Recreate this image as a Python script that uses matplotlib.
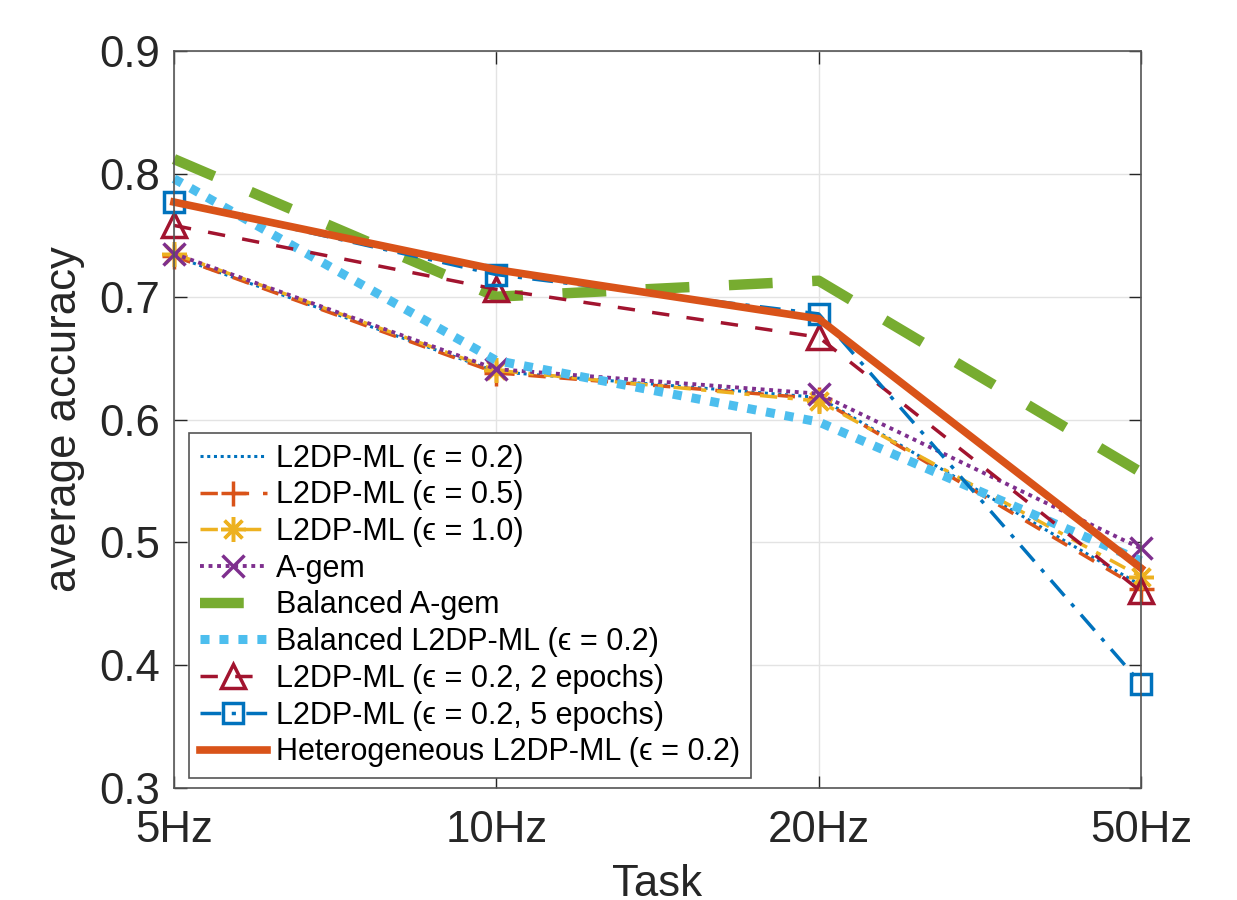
import matplotlib
matplotlib.use("Agg")
import matplotlib.pyplot as plt

# tasks on the x axis
tasks = ["5Hz", "10Hz", "20Hz", "50Hz"]

# average accuracy per task
l2dp_02 = [0.733, 0.639, 0.618, 0.465]
l2dp_05 = [0.733, 0.638, 0.617, 0.462]
l2dp_10 = [0.735, 0.640, 0.615, 0.472]
agem = [0.735, 0.641, 0.621, 0.495]
bal_agem = [0.812, 0.700, 0.713, 0.557]
bal_l2dp = [0.796, 0.648, 0.598, 0.485]
l2dp_2ep = [0.758, 0.706, 0.667, 0.460]
l2dp_5ep = [0.777, 0.718, 0.686, 0.385]
hetero = [0.777, 0.722, 0.682, 0.479]

labels = [
    "L2DP-ML (ϵ = 0.2)",
    "L2DP-ML (ϵ = 0.5)",
    "L2DP-ML (ϵ = 1.0)",
    "A-gem",
    "Balanced A-gem",
    "Balanced L2DP-ML (ϵ = 0.2)",
    "L2DP-ML (ϵ = 0.2, 2 epochs)",
    "L2DP-ML (ϵ = 0.2, 5 epochs)",
    "Heterogeneous L2DP-ML (ϵ = 0.2)",
]

plt.rcParams["font.family"] = ["Liberation Sans", "DejaVu Sans"]

txt = "#262626"
fig = plt.figure(figsize=(12.37, 9.0), dpi=100)
ax = fig.add_axes([174 / 1237, 112 / 900, 967 / 1237, 737 / 900])

x = list(range(len(tasks)))
kw = dict(clip_on=False)

ax.plot(x, l2dp_02, color="#0072BD", lw=2.2, linestyle=(0, (1, 1.2)), label=labels[0], **kw)
ax.plot(x, l2dp_05, color="#D95319", lw=2.5, linestyle=(0, (5, 4)), marker="+",
        ms=18, mew=2.5, label=labels[1], **kw)
ax.plot(x, l2dp_10, color="#EDB120", lw=2.5, linestyle=(0, (5, 3, 1.5, 3)), marker=(8, 2, 0),
        ms=18, mew=2.5, label=labels[2], **kw)
ax.plot(x, agem, color="#7E2F8E", lw=2.8, linestyle=(0, (1, 1.2)), marker="x",
        ms=16, mew=2.5, label=labels[3], **kw)
ax.plot(x, bal_agem, color="#77AC30", lw=7.5, linestyle=(0, (4.2, 3.8)),
        dash_capstyle="butt", label=labels[4], **kw)
ax.plot(x, bal_l2dp, color="#4DBEEE", lw=6.5, linestyle=(0, (1, 1.1)),
        dash_capstyle="butt", label=labels[5], **kw)
ax.plot(x, l2dp_2ep, color="#A2142F", lw=2.5, linestyle=(0, (5, 5)), marker="^",
        ms=17, mew=2.5, mfc="none", label=labels[6], **kw)
ax.plot(x, l2dp_5ep, color="#0072BD", lw=2.5, linestyle=(0, (6, 3, 1.2, 3)), marker="s",
        ms=14, mew=2.5, mfc="none", label=labels[7], **kw)
ax.plot(x, hetero, color="#D95319", lw=5.5, linestyle="-", label=labels[8], **kw)

ax.set_xlim(0, 3)
ax.set_ylim(0.3, 0.9)
ax.set_xticks(x)
ax.set_xticklabels(tasks)
ax.set_yticks([0.3, 0.4, 0.5, 0.6, 0.7, 0.8, 0.9])
ax.set_yticklabels(["0.3", "0.4", "0.5", "0.6", "0.7", "0.8", "0.9"])

ax.grid(True, color="#e3e3e3", lw=1.0)
ax.set_axisbelow(True)
ax.tick_params(direction="in", length=9, width=1, colors=txt, labelsize=31.5,
               top=True, right=True)
ax.tick_params(axis="y", pad=10)
ax.tick_params(axis="x", pad=16)
for s in ax.spines.values():
    s.set_color("#555555")
    s.set_linewidth(1.2)

ax.set_ylabel("average accuracy", fontsize=31.5, color=txt, labelpad=10)
ax.set_xlabel("Task", fontsize=31.5, color=txt, labelpad=9)

leg = ax.legend(loc="lower left", bbox_to_anchor=(0.0155, 0.0136), borderaxespad=0,
                fontsize=22, fancybox=False, framealpha=1, edgecolor="#555555",
                handlelength=2.2, handletextpad=0.3, labelspacing=0.22, borderpad=0.35)
leg.get_frame().set_linewidth(1.2)
for t in leg.get_texts():
    t.set_color("black")

fig.savefig("out.png", dpi=100)
